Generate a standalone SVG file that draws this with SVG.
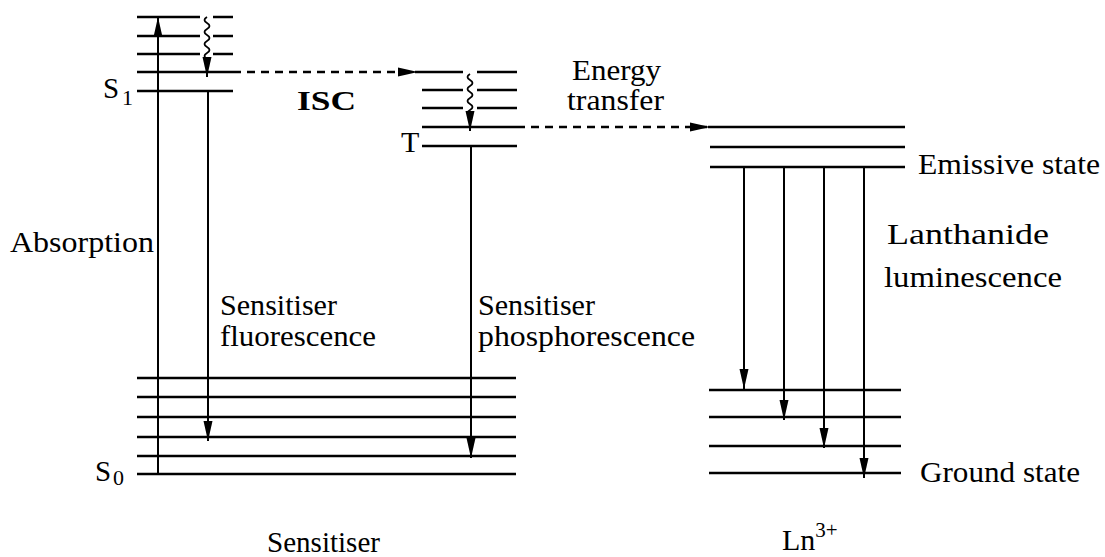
<svg xmlns="http://www.w3.org/2000/svg" width="1105" height="557" viewBox="0 0 1105 557">
<style>
  .lvl{stroke:#000;stroke-width:2.5;fill:none}
  .ar{stroke:#000;stroke-width:2;fill:none}
  .dash{stroke:#000;stroke-width:2.5;fill:none;stroke-dasharray:8 6}
  .wave{stroke:#000;stroke-width:1.8;fill:none}
</style>
<defs>
  <marker id="ah" viewBox="0 0 20 10" refX="20" refY="5" markerWidth="20" markerHeight="10" markerUnits="userSpaceOnUse" orient="auto">
    <path d="M0,0.5 L20,5 L0,9.5 Z" fill="#000"/>
  </marker>
</defs>
<rect width="1105" height="557" fill="#fff"/>

<g id="sensitiser-S1">
  <path class="lvl" d="M137,17H200M213,17H233M137,36H200M213,36H233M137,54H200M213,54H233M137,72H233M137,91H233"/>
  <text font-family="Liberation Serif" x="103" y="98" font-size="29">S</text><text font-family="Liberation Serif" x="122" y="105" font-size="22">1</text>
</g>
<g id="sensitiser-T">
  <path class="lvl" d="M418,72H463M477,72H517M422,90H463M477,90H517M422,108H463M477,108H517M422,127H517M422,146H517"/>
  <text font-family="Liberation Serif" x="401" y="152" font-size="30">T</text>
</g>
<g id="sensitiser-S0">
  <path class="lvl" d="M137,378H516M137,397H516M137,417H516M137,437H516M137,456H516M137,474H516"/>
  <text font-family="Liberation Serif" x="95" y="481" font-size="29">S</text><text font-family="Liberation Serif" x="113" y="485" font-size="22">0</text>
</g>
<g id="ln-emissive">
  <path class="lvl" d="M708,127H905M710,147H905M710,167H905"/>
  <text font-family="Liberation Serif" font-size="30" x="918" y="174" textLength="182" lengthAdjust="spacingAndGlyphs">Emissive state</text>
</g>
<g id="ln-ground">
  <path class="lvl" d="M709,390H901M709,417H901M709,446H901M709,473H901"/>
  <text font-family="Liberation Serif" font-size="30" x="920" y="482" textLength="160" lengthAdjust="spacingAndGlyphs">Ground state</text>
</g>

<g id="connectors">
  <line class="ar" x1="158" y1="474" x2="158" y2="17" marker-end="url(#ah)"/>
  <path class="wave" d="M207,17 q-5,3 0,6 q5,3 0,6 q-5,3 0,6 q5,3 0,6 q-5,3 0,6 q5,3 0,6 q-5,3 0,6 L207,60"/>
  <line class="ar" x1="207" y1="58" x2="207" y2="77" marker-end="url(#ah)"/>
  <line class="ar" x1="208" y1="91" x2="208" y2="441" marker-end="url(#ah)"/>
  <line class="dash" x1="233" y1="72" x2="418" y2="72" marker-end="url(#ah)"/>
  <path class="wave" d="M470,74 q-5,3 0,6 q5,3 0,6 q-5,3 0,6 q5,3 0,6 q-5,3 0,6 q5,3 0,6 q-5,3 0,6 L470,114"/>
  <line class="ar" x1="470" y1="112" x2="470" y2="131" marker-end="url(#ah)"/>
  <line class="ar" x1="471" y1="146" x2="471" y2="458" marker-end="url(#ah)"/>
  <line class="dash" x1="517" y1="127" x2="710" y2="127" marker-end="url(#ah)"/>
  <line class="ar" x1="744" y1="167" x2="744" y2="389" marker-end="url(#ah)"/>
  <line class="ar" x1="784" y1="167" x2="784" y2="420" marker-end="url(#ah)"/>
  <line class="ar" x1="824" y1="167" x2="824" y2="448" marker-end="url(#ah)"/>
  <line class="ar" x1="864" y1="167" x2="864" y2="478" marker-end="url(#ah)"/>
</g>

<g id="labels">
  <text font-family="Liberation Serif" font-size="30" x="10" y="252" textLength="144" lengthAdjust="spacingAndGlyphs">Absorption</text>
  <text font-family="Liberation Serif" font-weight="bold" x="297" y="110" font-size="28" textLength="59" lengthAdjust="spacingAndGlyphs">ISC</text>
  <text font-family="Liberation Serif" font-size="30" x="572" y="80" textLength="89" lengthAdjust="spacingAndGlyphs">Energy</text>
  <text font-family="Liberation Serif" font-size="30" x="567" y="110" textLength="97" lengthAdjust="spacingAndGlyphs">transfer</text>
  <text font-family="Liberation Serif" font-size="30" x="220" y="315" textLength="117" lengthAdjust="spacingAndGlyphs">Sensitiser</text>
  <text font-family="Liberation Serif" font-size="30" x="220" y="346" textLength="156" lengthAdjust="spacingAndGlyphs">fluorescence</text>
  <text font-family="Liberation Serif" font-size="30" x="478" y="315" textLength="117" lengthAdjust="spacingAndGlyphs">Sensitiser</text>
  <text font-family="Liberation Serif" font-size="30" x="478" y="346" textLength="217" lengthAdjust="spacingAndGlyphs">phosphorescence</text>
  <text font-family="Liberation Serif" font-size="30" x="887" y="244" textLength="162" lengthAdjust="spacingAndGlyphs">Lanthanide</text>
  <text font-family="Liberation Serif" font-size="30" x="884" y="287" textLength="178" lengthAdjust="spacingAndGlyphs">luminescence</text>
  <text font-family="Liberation Serif" font-size="30" x="267" y="552" textLength="113" lengthAdjust="spacingAndGlyphs">Sensitiser</text>
  <text font-family="Liberation Serif" font-size="30" x="782" y="550">Ln<tspan font-size="21" dy="-13">3+</tspan></text>
</g>
</svg>
